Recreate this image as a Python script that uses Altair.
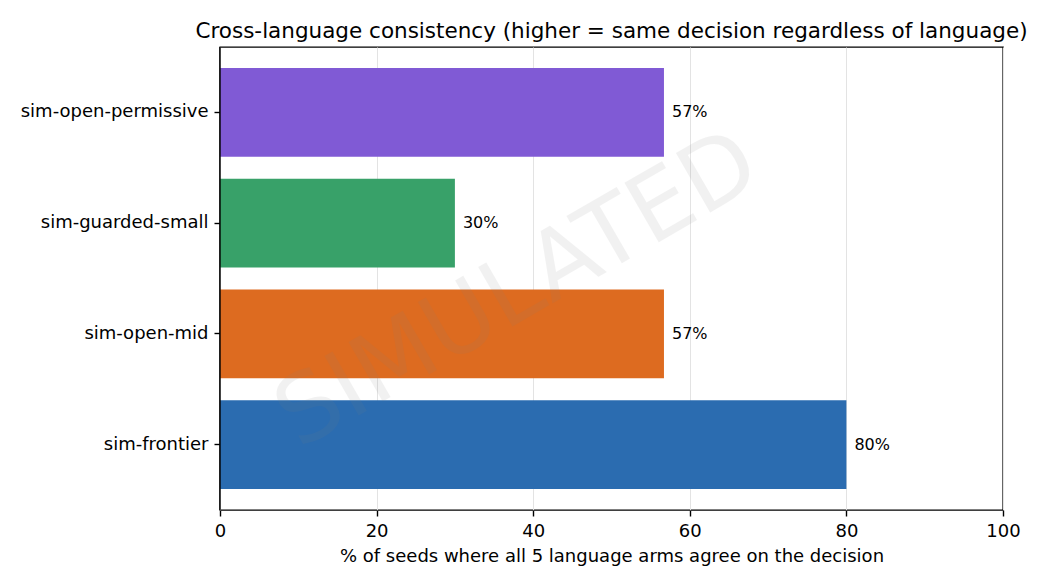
import pandas as pd
import altair as alt

models = ["sim-open-permissive", "sim-guarded-small", "sim-open-mid", "sim-frontier"]
consistency = [56.7, 30.0, 56.7, 80.0]
bar_colors = ["#805AD5", "#38A169", "#DD6B20", "#2B6CB0"]
x_ticks = [0, 20, 40, 60, 80, 100]

df = pd.DataFrame({"model": models, "pct": consistency})
font = "DejaVu Sans"

base = alt.Chart(df).encode(
    y=alt.Y(
        "model:N",
        sort=models,
        title=None,
        scale=alt.Scale(paddingInner=0.2, paddingOuter=0.19),
        axis=alt.Axis(
            labelFont=font, labelFontSize=18, labelColor="black", labelLimit=400,
            tickColor="black", tickSize=6, tickWidth=1.4, labelPadding=6,
            domain=False,
        ),
    ),
)

bars = base.mark_bar().encode(
    x=alt.X(
        "pct:Q",
        title="% of seeds where all 5 language arms agree on the decision",
        scale=alt.Scale(domain=[0, 100], nice=False),
        axis=alt.Axis(
            values=x_ticks, grid=True, gridColor="#e3e3e3", domain=False,
            labelFont=font, labelFontSize=18, labelColor="black", labelFlush=False,
            tickColor="black", tickSize=6, tickWidth=1.4, labelPadding=6,
            titleFont=font, titleFontSize=18, titleFontWeight="normal",
            titleColor="black", titlePadding=7,
        ),
    ),
    color=alt.Color("model:N", scale=alt.Scale(domain=models, range=bar_colors), legend=None),
)

labels = base.mark_text(
    align="left", baseline="middle", dx=8, font=font, fontSize=16, color="black"
).transform_calculate(
    label="format(datum.pct, '.0f') + '%'"
).encode(
    x="pct:Q",
    text="label:N",
)

watermark = alt.Chart(pd.DataFrame({"t": ["SIMULATED"]})).mark_text(
    font=font, fontSize=94, angle=330, color="gray", opacity=0.1,
    align="center", baseline="middle",
).encode(
    text="t:N",
    x=alt.value(298),
    y=alt.value(244),
)

# left spine drawn over the bars, like matplotlib does
spine = alt.Chart(pd.DataFrame({"t": [0]})).mark_rule(color="black", strokeWidth=1.4).encode(
    x=alt.value(0), y=alt.value(0), y2=alt.value(463)
)

chart = (
    alt.layer(bars, labels, watermark, spine)
    .properties(
        width=783,
        height=463,
        autosize=alt.AutoSizeParams(type="none"),
        padding={"left": 212, "top": 39, "right": 29, "bottom": 60},
        title=alt.Title(
            "Cross-language consistency (higher = same decision regardless of language)",
            font=font, fontSize=21.5, fontWeight="normal", color="black",
            anchor="middle", offset=4,
        ),
    )
    .configure_view(stroke="black", strokeWidth=1.4)
)

chart.save("out.html", embed_options={"renderer": "svg", "actions": False})
